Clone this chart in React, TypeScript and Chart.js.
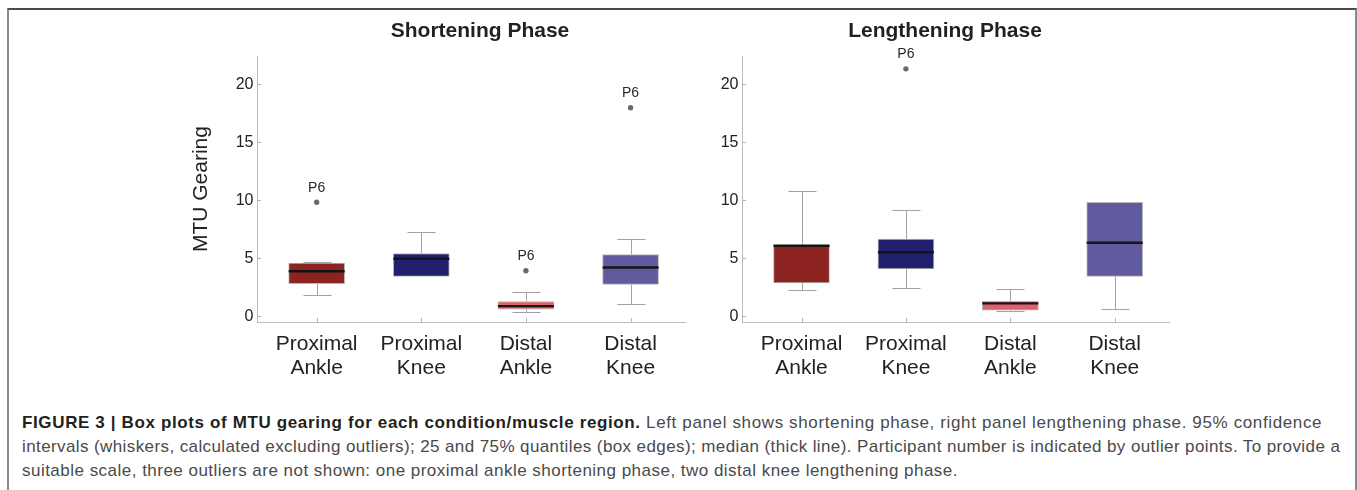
import { useEffect, useRef } from 'react';
import { Chart, registerables } from 'chart.js';

Chart.register(...registerables);

const FONT = "'Liberation Sans', Arial, Helvetica, sans-serif";

// Muscle regions (categories), their two-line axis labels and box colours
const regions = ['Proximal Ankle', 'Proximal Knee', 'Distal Ankle', 'Distal Knee'];
const regionLabels = [['Proximal', 'Ankle'], ['Proximal', 'Knee'], ['Distal', 'Ankle'], ['Distal', 'Knee']];
const regionColors = ['#8c2320', '#22206c', '#e1616b', '#5f5b9e'];
const yTicks = [0, 5, 10, 15, 20];

// Shortening phase: whisker ends, quartiles, medians
const shortLow = [1.87, 3.45, 0.37, 1.06];
const shortQ1 = [2.82, 3.45, 0.63, 2.76];
const shortMedian = [3.9, 4.97, 0.89, 4.22];
const shortQ3 = [4.6, 5.43, 1.29, 5.34];
const shortHigh = [4.66, 7.27, 2.09, 6.7];
// Shortening phase outliers (region index is 1-based)
const shortOutRegion = [1, 3, 4];
const shortOutValue = [9.85, 3.94, 17.99];
const shortOutLabel = ['P6', 'P6', 'P6'];

// Lengthening phase: whisker ends, quartiles, medians
const longLow = [2.3, 2.46, 0.5, 0.66];
const longQ1 = [2.9, 4.1, 0.53, 3.45];
const longMedian = [6.1, 5.53, 1.13, 6.35];
const longQ3 = [6.15, 6.66, 1.3, 9.83];
const longHigh = [10.78, 9.2, 2.4, 9.88];
// Lengthening phase outliers
const longOutRegion = [2];
const longOutValue = [21.35];
const longOutLabel = ['P6'];

type BoxOpts = {
  low: number[];
  q1: number[];
  median: number[];
  q3: number[];
  high: number[];
  outRegion: number[];
  outValue: number[];
  outLabel: string[];
};

// Whiskers, medians, outlier labels and inward tick marks for the box plot
const boxPlotPlugin = {
  id: 'boxPlot',
  beforeDatasetsDraw(chart: any, _args: any, opts: BoxOpts) {
    const { ctx } = chart;
    const y = chart.scales.y;
    const meta = chart.getDatasetMeta(0);
    ctx.save();
    ctx.strokeStyle = '#a3a3a3';
    ctx.lineWidth = 1;
    meta.data.forEach((bar: any, i: number) => {
      const x = Math.round(bar.x) + 0.5;
      const cap = bar.width / 4;
      const draw = (from: number, to: number) => {
        const p0 = y.getPixelForValue(from);
        const p1 = Math.round(y.getPixelForValue(to)) + 0.5;
        if (Math.abs(p1 - p0) < 0.5) return;
        ctx.beginPath();
        ctx.moveTo(x, p0);
        ctx.lineTo(x, p1);
        ctx.moveTo(x - cap, p1);
        ctx.lineTo(x + cap, p1);
        ctx.stroke();
      };
      draw(opts.q3[i], opts.high[i]);
      draw(opts.q1[i], opts.low[i]);
    });
    ctx.restore();
  },
  afterDatasetsDraw(chart: any, _args: any, opts: BoxOpts) {
    const { ctx } = chart;
    const x = chart.scales.x;
    const y = chart.scales.y;
    const meta = chart.getDatasetMeta(0);
    ctx.save();
    ctx.strokeStyle = '#141414';
    ctx.lineWidth = 2.4;
    meta.data.forEach((bar: any, i: number) => {
      const py = y.getPixelForValue(opts.median[i]);
      ctx.beginPath();
      ctx.moveTo(bar.x - bar.width / 2, py);
      ctx.lineTo(bar.x + bar.width / 2, py);
      ctx.stroke();
    });
    ctx.fillStyle = '#2a2a2a';
    ctx.font = `14px ${FONT}`;
    ctx.textAlign = 'center';
    ctx.textBaseline = 'middle';
    opts.outLabel.forEach((label, i) => {
      const px = x.getPixelForValue(opts.outRegion[i]);
      const py = y.getPixelForValue(opts.outValue[i]);
      ctx.fillText(label, px, py - 14.5);
    });
    ctx.restore();
  },
  afterDraw(chart: any) {
    const { ctx, chartArea } = chart;
    const x = chart.scales.x;
    const y = chart.scales.y;
    ctx.save();
    ctx.strokeStyle = '#b4b4b4';
    ctx.lineWidth = 1;
    ctx.beginPath();
    yTicks.forEach((v) => {
      const py = Math.round(y.getPixelForValue(v)) + 0.5;
      ctx.moveTo(chartArea.left, py);
      ctx.lineTo(chartArea.left + 4, py);
    });
    regions.forEach((_r, i) => {
      const px = Math.round(x.getPixelForValue(i + 1)) + 0.5;
      ctx.moveTo(px, chartArea.bottom);
      ctx.lineTo(px, chartArea.bottom - 4);
    });
    ctx.stroke();
    ctx.restore();
  },
};

type PanelProps = {
  title: string;
  box: BoxOpts;
  left: number;
  width: number;
  axisWidth: number;
  rightGap: number;
  yTitle: boolean;
};

function PhasePanel({ title, box, left, width, axisWidth, rightGap, yTitle }: PanelProps) {
  const ref = useRef<HTMLCanvasElement | null>(null);
  const height = 380;

  useEffect(() => {
    if (!ref.current) return;
    const chart = new Chart(ref.current, {
      type: 'bar',
      data: {
        datasets: [
          {
            type: 'bar',
            data: regions.map((_r, i) => ({ x: i + 1, y: [box.q1[i], box.q3[i]] })) as any,
            backgroundColor: regionColors,
            borderColor: '#b9b9b9',
            borderWidth: 1,
            borderSkipped: false,
            barThickness: 56,
          },
          {
            type: 'scatter',
            data: box.outRegion.map((r, i) => ({ x: r, y: box.outValue[i] })) as any,
            backgroundColor: '#6a6a6a',
            borderWidth: 0,
            pointRadius: 2.7,
          } as any,
        ],
      },
      options: {
        responsive: false,
        animation: false,
        layout: { padding: 0 },
        plugins: {
          legend: { display: false },
          tooltip: { enabled: false },
          title: {
            display: true,
            text: title,
            color: '#231f20',
            font: { family: FONT, size: 21, weight: 'bold' },
            padding: { top: 9, bottom: 12 },
          },
          boxPlot: box,
        } as any,
        scales: {
          x: {
            type: 'linear',
            offset: false,
            min: 0.43,
            max: 4.52,
            grid: { display: false, drawTicks: false },
            border: { display: true, color: '#bdbdbd', width: 1 },
            afterBuildTicks: (scale: any) => {
              scale.ticks = regions.map((_r, i) => ({ value: i + 1 }));
            },
            afterFit: (scale: any) => {
              scale.height = 68;
            },
            ticks: {
              autoSkip: false,
              maxRotation: 0,
              padding: 10,
              color: '#222222',
              font: { family: FONT, size: 21, lineHeight: 1.15 },
              callback: (v: any) => regionLabels[Number(v) - 1],
            },
          },
          y: {
            type: 'linear',
            min: -0.48,
            max: 22.44,
            grid: { display: false, drawTicks: false },
            border: { display: true, color: '#bdbdbd', width: 1 },
            afterBuildTicks: (scale: any) => {
              scale.ticks = yTicks.map((v) => ({ value: v }));
            },
            afterFit: (scale: any) => {
              scale.width = axisWidth;
            },
            ticks: {
              padding: 3.5,
              color: '#222222',
              font: { family: FONT, size: 16 },
            },
            title: {
              display: yTitle,
              text: 'MTU Gearing',
              color: '#222222',
              font: { family: FONT, size: 21 },
              padding: { top: 4, bottom: 0 },
            },
          },
          // empty right-hand axis: only reserves the margin right of the plot
          yRight: {
            type: 'linear',
            position: 'right',
            grid: { display: false, drawTicks: false },
            border: { display: false },
            ticks: { display: false },
            afterFit: (scale: any) => {
              scale.width = rightGap;
            },
          },
        },
      },
      plugins: [boxPlotPlugin as any],
    });
    return () => chart.destroy();
  }, []);

  return (
    <canvas
      ref={ref}
      width={width}
      height={height}
      style={{ position: 'absolute', left, top: 10, width, height }}
    />
  );
}

const shortBox: BoxOpts = {
  low: shortLow,
  q1: shortQ1,
  median: shortMedian,
  q3: shortQ3,
  high: shortHigh,
  outRegion: shortOutRegion,
  outValue: shortOutValue,
  outLabel: shortOutLabel,
};

const longBox: BoxOpts = {
  low: longLow,
  q1: longQ1,
  median: longMedian,
  q3: longQ3,
  high: longHigh,
  outRegion: longOutRegion,
  outValue: longOutValue,
  outLabel: longOutLabel,
};

const captionLine: React.CSSProperties = {
  position: 'absolute',
  left: 22,
  whiteSpace: 'nowrap',
  fontSize: 17,
  lineHeight: '20px',
  color: '#4a4a4a',
};

export default function App() {
  return (
    <div
      style={{
        position: 'absolute',
        left: 0,
        top: 0,
        width: 1357,
        height: 490,
        overflow: 'hidden',
        background: '#ffffff',
        fontFamily: FONT,
      }}
    >
      <div
        style={{
          position: 'absolute',
          left: 7,
          top: 8,
          width: 1346,
          height: 520,
          borderTop: '2px solid #4a4a4a',
          borderLeft: '2px solid #8a8a8a',
          borderRight: '2px solid #8a8a8a',
        }}
      />
      <PhasePanel
        title="Shortening Phase"
        box={shortBox}
        left={185}
        width={590}
        axisWidth={72}
        rightGap={90}
        yTitle
      />
      <PhasePanel
        title="Lengthening Phase"
        box={longBox}
        left={700}
        width={490}
        axisWidth={42}
        rightGap={21}
        yTitle={false}
      />
      <div style={{ ...captionLine, top: 413, letterSpacing: 0.63 }}>
        <span style={{ fontWeight: 'bold', color: '#231f20' }}>
          FIGURE 3 | Box plots of MTU gearing for each condition/muscle region.
        </span>{' '}
        Left panel shows shortening phase, right panel lengthening phase. 95% confidence
      </div>
      <div style={{ ...captionLine, top: 437, letterSpacing: 0.4 }}>
        intervals (whiskers, calculated excluding outliers); 25 and 75% quantiles (box edges); median (thick line). Participant number is indicated by outlier points. To provide a
      </div>
      <div style={{ ...captionLine, top: 461, letterSpacing: 0.48 }}>
        suitable scale, three outliers are not shown: one proximal ankle shortening phase, two distal knee lengthening phase.
      </div>
    </div>
  );
}
